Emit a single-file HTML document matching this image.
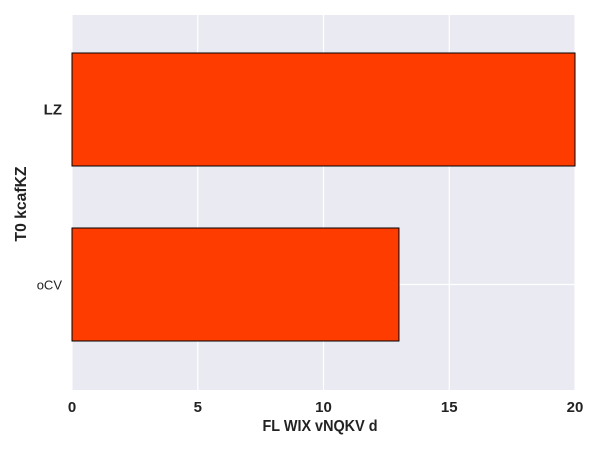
<!DOCTYPE html>
<html><head><meta charset="utf-8"><style>
body{margin:0;background:#fff;width:600px;height:450px;overflow:hidden}
svg text{font-family:"Liberation Sans Narrow","Liberation Sans",sans-serif}
</style></head><body>
<svg id="chart" width="600" height="450" xmlns="http://www.w3.org/2000/svg">
<rect x="72" y="15" width="503" height="375" fill="#eaeaf2"/>
<g id="grid"></g><g id="bars"></g><g id="ticks"></g>
<text x="320" y="431" text-anchor="middle" font-size="16" font-weight="bold" fill="#222" textLength="115" lengthAdjust="spacingAndGlyphs">FL WIX vNQKV d</text>
<text transform="translate(26,204) rotate(-90)" text-anchor="middle" font-size="16" font-weight="bold" fill="#222" textLength="75" lengthAdjust="spacingAndGlyphs">T0 kcafKZ</text>
</svg>
<script>
const categories = ["LZ", "oCV"];
const values = [20, 13];
const xTicks = [0, 5, 10, 15, 20];
const catBold = [true, false];
const NS = "http://www.w3.org/2000/svg";
const X0 = 72, X1 = 575, XMAX = 20;
function xs(v){ return X0 + (v / XMAX) * (X1 - X0); }
function yc(i){ return 109.5 + i * 175; }
const BH = 113;
function mk(tag, attrs, parent){ const e = document.createElementNS(NS, tag); for (const k in attrs) e.setAttribute(k, attrs[k]); document.getElementById(parent).appendChild(e); return e; }
xTicks.forEach(t => {
  const l = mk("line", {x1: xs(t), x2: xs(t), y1: 15, y2: 390, stroke: "#fff", "stroke-width": 1.2}, "grid");
  
  
  const tx = mk("text", {x: xs(t), y: 412, "text-anchor": "middle", "font-size": 15, "font-weight": "bold", fill: "#222"}, "ticks");
  tx.textContent = t;
  
  
});
categories.forEach((c, i) => {
  const g = mk("line", {x1: X0, x2: X1, y1: yc(i), y2: yc(i), stroke: "#fff", "stroke-width": 1.2}, "grid");
  
  
  const r = mk("rect", {x: xs(0), y: yc(i) - BH / 2, width: xs(values[i]) - xs(0), height: BH, fill: "#ff3c00", stroke: "#000", "stroke-width": 1}, "bars");
  
  
  const tx = mk("text", {x: 62, y: yc(i) + 5, "text-anchor": "end", "font-size": catBold[i] ? 15 : 13, "font-weight": catBold[i] ? "bold" : "normal", fill: "#222"}, "ticks");
  if (!catBold[i]) tx.setAttribute("style", "font-family:'Liberation Sans',sans-serif");
  tx.textContent = c;
  
  
});
</script>
</body></html>
